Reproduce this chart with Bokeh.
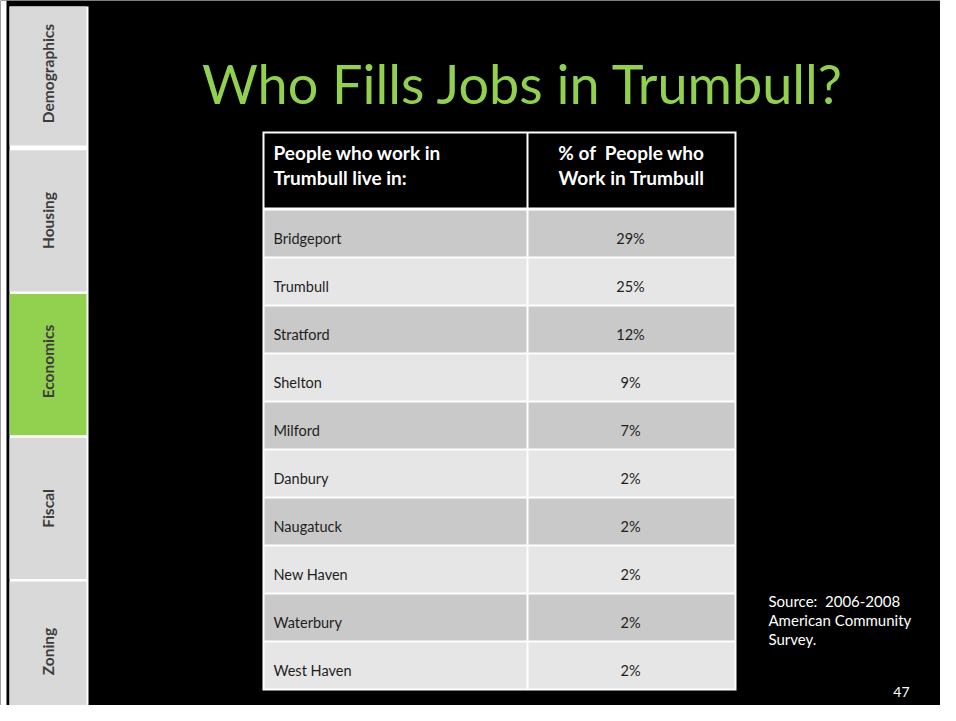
import math
from bokeh.plotting import figure
from bokeh.models import Range1d, ColumnDataSource
from bokeh.embed import file_html
from bokeh.resources import INLINE
from bokeh.core.properties import value

# ---------------- data ----------------
title_text = "Who Fills Jobs in Trumbull?"
header_left = ["People who work in", "Trumbull live in:"]
header_right = ["% of \u00a0People who", "Work in Trumbull"]
places = ["Bridgeport", "Trumbull", "Stratford", "Shelton", "Milford",
          "Danbury", "Naugatuck", "New Haven", "Waterbury", "West Haven"]
shares = [29, 25, 12, 9, 7, 2, 2, 2, 2, 2]
sections = ["Demographics", "Housing", "Economics", "Fiscal", "Zoning"]
active_section = "Economics"
source_lines = ["Source: \u00a02006-2008", "American Community", "Survey."]
page_number = "47"

# ---------------- layout (pixel coordinates of the slide) ----------------
W, H = 940, 705
FONT = value("Lato")
GREEN = "#92D050"

p = figure(width=W, height=H, output_backend="svg", toolbar_location=None,
           x_range=Range1d(0, W), y_range=Range1d(H, 0),
           min_border=0, background_fill_color="black", border_fill_color="black",
           outline_line_color=None)
p.axis.visible = False
p.grid.visible = False

# left edge strip
p.quad(left=[0], right=[6], top=[0], bottom=[H], fill_color="white", line_color=None)

# sidebar
p.quad(left=[9], right=[88], top=[6], bottom=[H + 20], fill_color="white", line_color=None)
pitch = 143.75
n = len(sections)
tops = [6 + i * pitch for i in range(n)]
bots = [6 + (i + 1) * pitch - 2.5 for i in range(n)]
bots[0] = 145
bots[-1] = H + 20
cols = [GREEN if s == active_section else "#D9D9D9" for s in sections]
centers = [73, 220, 361, 508, 651]
side = ColumnDataSource(dict(left=[9] * n, right=[86] * n, top=tops, bottom=bots, color=cols,
                             label=sections, x=[47] * n, y=centers))
p.quad(left="left", right="right", top="top", bottom="bottom", fill_color="color",
       line_color=None, source=side)
p.text(x="x", y="y", text="label", source=side, angle=math.pi / 2,
       text_align="center", text_baseline="middle", text_font=FONT,
       text_font_style="bold", text_font_size="15.5px", text_color="#3C3C3C")

# title
p.text(x=[523], y=[83], text=[title_text], text_align="center", text_baseline="middle",
       text_font=FONT, text_font_size="54px", text_color=GREEN)

# table
TL, TR, TD = 262, 736, 527
TT, HB = 131, 209
RP = 48
nr = len(places)
TB = HB + nr * RP + 1
p.quad(left=[TL], right=[TR], top=[TT], bottom=[TB], fill_color="white", line_color=None)
p.quad(left=[TL + 2, TD + 1], right=[TD - 1, TR - 2], top=[TT + 2] * 2, bottom=[HB - 2] * 2,
       fill_color="black", line_color=None)

rtops = [HB + 1 + i * RP for i in range(nr)]
rbots = [t + RP - 2 for t in rtops]
rcol = ["#C9C9C9" if i % 2 == 0 else "#E6E6E6" for i in range(nr)]
rows = ColumnDataSource(dict(top=rtops, bottom=rbots, color=rcol, place=places,
                             pct=[f"{v}%" for v in shares],
                             mid=[t + 28 for t in rtops]))
p.quad(left=TL + 2, right=TD - 1, top="top", bottom="bottom", fill_color="color",
       line_color=None, source=rows)
p.quad(left=TD + 1, right=TR - 2, top="top", bottom="bottom", fill_color="color",
       line_color=None, source=rows)
p.text(x=273, y="mid", text="place", source=rows, text_align="left",
       text_baseline="middle", text_font=FONT, text_font_size="14.5px", text_color="#1E1E1E")
p.text(x=630, y="mid", text="pct", source=rows, text_align="center",
       text_baseline="middle", text_font=FONT, text_font_size="14.5px", text_color="#1E1E1E")

# header texts
p.text(x=[273] * 2, y=[152, 177], text=header_left, text_align="left",
       text_baseline="middle", text_font=FONT, text_font_style="bold",
       text_font_size="19px", text_color="white")
p.text(x=[631] * 2, y=[152, 177], text=header_right, text_align="center",
       text_baseline="middle", text_font=FONT, text_font_style="bold",
       text_font_size="19px", text_color="white")

# source note and page number
p.text(x=[768] * 3, y=[600, 619, 638], text=source_lines, text_align="left",
       text_baseline="middle", text_font=FONT, text_font_size="15px", text_color="white")
p.text(x=[909], y=[691], text=[page_number], text_align="right",
       text_baseline="middle", text_font=FONT, text_font_size="14px", text_color="white")

open("out.html", "w").write(file_html(p, INLINE))
